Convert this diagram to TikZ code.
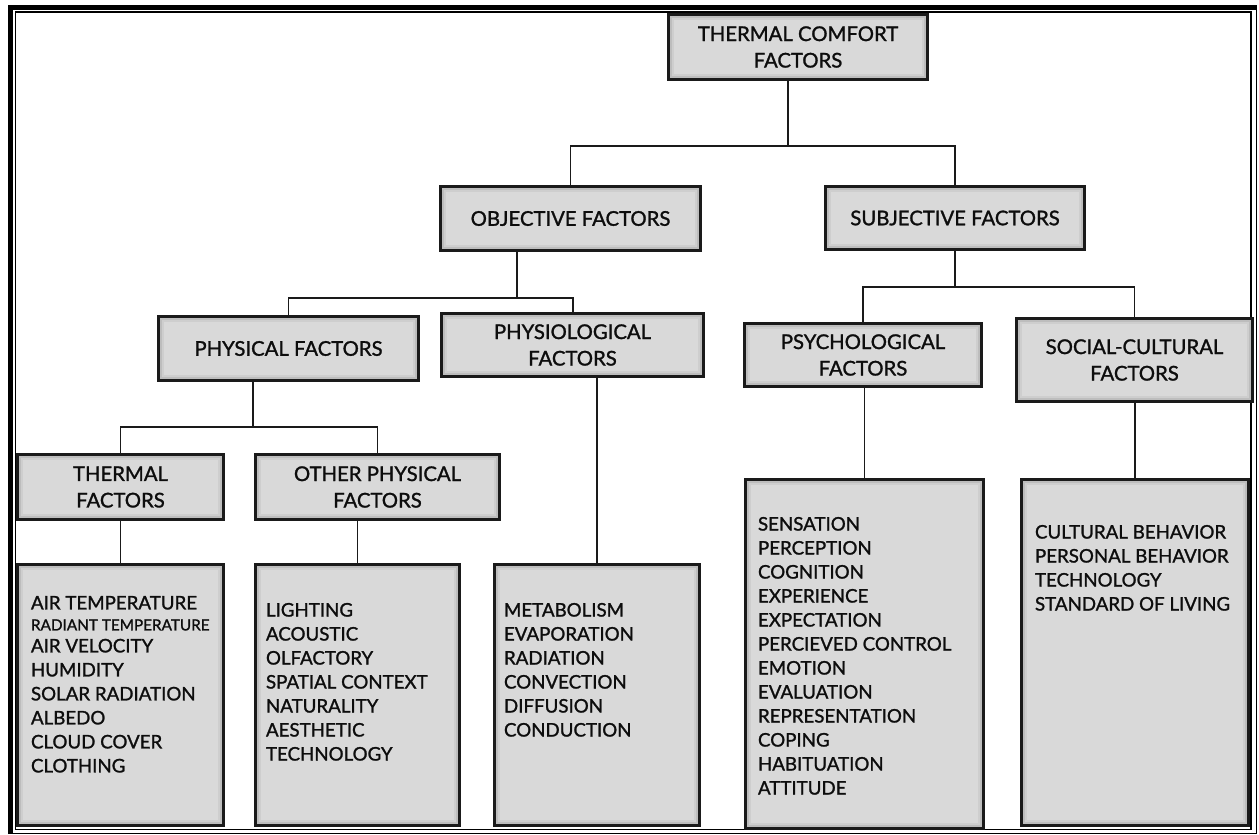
\documentclass[tikz,border=0pt]{standalone}
\usepackage{fontspec}
\setmainfont{Lato}
\newfontfamily\medfont{Lato}[FakeBold=1.3]
\definecolor{boxfill}{HTML}{D9D9D9}
\definecolor{boxline}{HTML}{1A1A1A}
\definecolor{textc}{HTML}{0D0D0D}
\begin{document}
\begin{tikzpicture}[x=1pt,y=-1pt,
  box/.style={draw=boxline, line width=3.2pt, fill=boxfill, inner sep=0pt, outer sep=0pt,
    align=center, text=textc, font=\medfont\fontsize{20.3}{26.5}\selectfont,
    path picture={
      \draw[line width=11pt, boxfill!95!black] (path picture bounding box.south west) rectangle (path picture bounding box.north east);
      \draw[line width=6.5pt, boxfill!87!black] (path picture bounding box.south west) rectangle (path picture bounding box.north east);
      \draw[line width=3.8pt, boxfill!72!black] (path picture bounding box.south west) rectangle (path picture bounding box.north east);
    }},
  listbox/.style={box},
  listtxt/.style={inner sep=0pt, outer sep=0pt, align=left, anchor=north west, text=textc,
    font=\medfont\fontsize{18.7}{24}\selectfont},
  conn/.style={line width=1.6pt, draw=boxline},
  frame/.style={draw=black}
]
\useasboundingbox (0,0) rectangle (1259,835);
% page frame
\draw[frame, line width=5pt] (10.5,834) -- (10.5,7.5) -- (1257,7.5);
\draw[frame, line width=1.2pt] (1256.5,7.5) -- (1256.5,833.5) -- (10.5,833.5);
\draw[frame, line width=1.2pt] (15.5,12) rectangle (1251,829.5);

% header boxes
\node[box, minimum width=259pt, minimum height=65pt] (top) at (798,47) {THERMAL COMFORT\\FACTORS};
\node[box, minimum width=260pt, minimum height=64pt] (obj) at (570.5,218.5) {OBJECTIVE FACTORS};
\node[box, minimum width=259pt, minimum height=63pt] (subj) at (955,218) {SUBJECTIVE FACTORS};
\node[box, minimum width=260pt, minimum height=64pt] (phys) at (288.5,348.5) {PHYSICAL FACTORS};
\node[box, minimum width=262pt, minimum height=63pt] (physio) at (572.5,345) {PHYSIOLOGICAL\\FACTORS};
\node[box, minimum width=237pt, minimum height=63pt] (psych) at (863,355) {PSYCHOLOGICAL\\FACTORS};
\node[box, minimum width=236pt, minimum height=83pt] (social) at (1134.5,360) {SOCIAL-CULTURAL\\FACTORS};
\node[box, minimum width=206pt, minimum height=65pt] (thermal) at (120.5,487) {THERMAL\\FACTORS};
\node[box, minimum width=244pt, minimum height=65pt] (other) at (377.5,487) {OTHER PHYSICAL\\FACTORS};

% list boxes
\node[listbox, minimum width=206pt, minimum height=261pt] (thermallist) at (120.5,695) {};
\node[listbox, minimum width=204pt, minimum height=261pt] (otherlist) at (357.5,695) {};
\node[listbox, minimum width=205pt, minimum height=261pt] (physiolist) at (597,695) {};
\node[listbox, minimum width=238pt, minimum height=349pt] (psychlist) at (864.5,654) {};
\node[listbox, minimum width=227pt, minimum height=346pt] (sociallist) at (1135,652.5) {};

% list texts
\node[listtxt] (thermaltxt) at (31,596) {AIR TEMPERATURE\\[-3pt]{\fontsize{15.3}{16}\selectfont RADIANT TEMPERATURE}\\[-2pt]AIR VELOCITY\\HUMIDITY\\SOLAR RADIATION\\ALBEDO\\CLOUD COVER\\CLOTHING};
\node[listtxt] (othertxt) at (266,603) {LIGHTING\\ACOUSTIC\\OLFACTORY\\SPATIAL CONTEXT\\NATURALITY\\AESTHETIC\\TECHNOLOGY};
\node[listtxt] (physiotxt) at (504,603) {METABOLISM\\EVAPORATION\\RADIATION\\CONVECTION\\DIFFUSION\\CONDUCTION};
\node[listtxt] (psychtxt) at (758,517) {SENSATION\\PERCEPTION\\COGNITION\\EXPERIENCE\\EXPECTATION\\PERCIEVED CONTROL\\EMOTION\\EVALUATION\\REPRESENTATION\\COPING\\HABITUATION\\ATTITUDE};
\node[listtxt] (socialtxt) at (1035,525) {CULTURAL BEHAVIOR\\PERSONAL BEHAVIOR\\TECHNOLOGY\\STANDARD OF LIVING};

% connectors
\coordinate (j1) at (788,146);
\draw[conn] (top.south -| j1) -- (j1);
\draw[conn] (obj.north) -- (obj.north |- j1) -- (subj.north |- j1) -- (subj.north);

\coordinate (j2) at (517,298);
\draw[conn] (obj.south -| j2) -- (j2);
\draw[conn] (phys.north) -- (phys.north |- j2) -- ([xshift=0.5pt]physio.north |- j2) -- ([xshift=0.5pt]physio.north);

\coordinate (j3) at (955,287);
\draw[conn] (subj.south) -- (j3);
\draw[conn] (psych.north) -- (psych.north |- j3) -- (social.north |- j3) -- (social.north);

\coordinate (j4) at (253,427);
\draw[conn] (phys.south -| j4) -- (j4);
\draw[conn] (thermal.north) -- (thermal.north |- j4) -- (other.north |- j4) -- (other.north);

\draw[conn] (thermallist.north) -- (thermallist.north |- thermal.south);
\draw[conn] (otherlist.north) -- (otherlist.north |- other.south);
\draw[conn] (physiolist.north) -- (physiolist.north |- physio.south);
\draw[conn] (psychlist.north) -- (psychlist.north |- psych.south);
\draw[conn] (sociallist.north) -- (sociallist.north |- social.south);
\end{tikzpicture}
\end{document}
